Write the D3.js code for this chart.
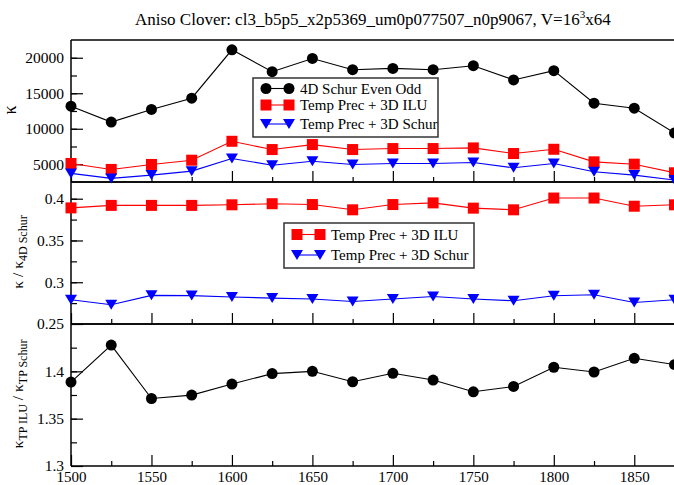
<!DOCTYPE html>
<html><head><meta charset="utf-8">
<script src="https://cdn.jsdelivr.net/npm/d3@7"></script>
<style>
html,body{margin:0;padding:0;background:#fff;overflow:hidden;}
svg text{font-family:"Liberation Serif","Times New Roman",serif !important;}
</style></head>
<body><svg id="chart" width="674" height="485"></svg>
<script>
// ---- data ----
const beta = [1500,1525,1550,1575,1600,1625,1650,1675,1700,1725,1750,1775,1800,1825,1850,1875];
const kappa4DSchur = [13180,10940,12720,14300,21120,18040,19900,18320,18500,18320,18880,16870,18180,13600,12900,9400];
const kappaTPILU   = [5110,4270,4970,5570,8235,7070,7770,7070,7210,7210,7300,6510,7110,5340,5010,3800];
const kappaTPSchur = [3710,3010,3470,4030,5810,4870,5430,4970,5110,5110,5250,4500,5110,3940,3470,2770];
const ratioILU   = [0.389,0.392,0.392,0.392,0.3927,0.394,0.393,0.3867,0.393,0.395,0.3887,0.3867,0.4008,0.4008,0.391,0.3927];
const ratioSchur = [0.279,0.273,0.2843,0.284,0.2823,0.281,0.2799,0.277,0.280,0.283,0.280,0.2778,0.2839,0.2851,0.2758,0.279];
const ratioTP    = [1.3887,1.4277,1.3713,1.3749,1.3866,1.3976,1.400,1.389,1.3979,1.3908,1.3784,1.384,1.4043,1.3993,1.4138,1.4071];
const xTicks = [1500,1550,1600,1650,1700,1750,1800,1850];
const topTicks = [5000,10000,15000,20000];
const midTicks = [0.25,0.3,0.35,0.4];
const botTicks = [1.3,1.35,1.4];
const seriesNames = ["4D Schur Even Odd","Temp Prec + 3D ILU","Temp Prec + 3D Schur"];
const titleText = "Aniso Clover: cl3_b5p5_x2p5369_um0p077507_n0p9067, V=16";

const svg = d3.select("#chart");
const L = 71, R = 674.5;
const x = d3.scaleLinear().domain([1500,1875]).range([L,R]);

const panels = [
  {top:40, bottom:182, domain:[2500,22500], ticks:topTicks, minorStep:2500, fmt:d3.format("d")},
  {top:182, bottom:324, domain:[0.25,0.42], ticks:midTicks, minorStep:0.025, fmt:d=>String(d)},
  {top:324, bottom:466, domain:[1.3,1.45], ticks:botTicks, minorStep:0.025, fmt:d=>String(d)}
];
panels.forEach(p=>{ p.y = d3.scaleLinear().domain(p.domain).range([p.bottom,p.top]); });

// title
const t = svg.append("text").attr("x",135).attr("y",25).attr("font-size",17).attr("fill","#000").text(titleText);
t.append("tspan").attr("dy",-7).attr("font-size",11).text("3");
t.append("tspan").attr("dy",7).text("x64");

function minorVals(domain, step){
  const out=[]; const n=Math.round((domain[1]-domain[0])/step);
  for(let i=0;i<=n;i++){ out.push(+(domain[0]+i*step).toFixed(6)); }
  return out;
}

panels.forEach((p,i)=>{
  svg.append("line").attr("x1",L).attr("x2",R+2).attr("y1",p.top).attr("y2",p.top).attr("stroke","#000").attr("stroke-width",1.5);
  svg.append("line").attr("x1",L).attr("x2",R+2).attr("y1",p.bottom).attr("y2",p.bottom).attr("stroke","#000").attr("stroke-width",1.5);
  svg.append("line").attr("x1",L).attr("x2",L).attr("y1",p.top).attr("y2",p.bottom).attr("stroke","#000").attr("stroke-width",1.5);
  const gm = svg.append("g").attr("transform",`translate(${L},0)`)
    .call(d3.axisLeft(p.y).tickValues(minorVals(p.domain,p.minorStep).filter(v=>v>p.domain[0]&&v<p.domain[1])).tickSize(-6).tickFormat(""));
  gm.select(".domain").remove();
  const g = svg.append("g").attr("transform",`translate(${L},0)`)
    .call(d3.axisLeft(p.y).tickValues(p.ticks).tickSize(-12).tickPadding(7).tickFormat(p.fmt));
  g.select(".domain").remove();
  g.attr("font-family",null);
  g.selectAll("text").attr("font-size",15.5).attr("fill","#000");
  g.selectAll("line").attr("stroke-width",1.2);
  gm.selectAll("line").attr("stroke-width",1.2);
  const xm = svg.append("g").attr("transform",`translate(0,${p.bottom})`)
    .call(d3.axisBottom(x).tickValues(beta.filter(v=>v%50!==0)).tickSize(-5).tickFormat(""));
  xm.select(".domain").remove();
  const xg = svg.append("g").attr("transform",`translate(0,${p.bottom})`)
    .call(d3.axisBottom(x).tickValues(xTicks).tickSize(-11).tickPadding(6).tickFormat(i===2?d3.format("d"):""));
  xg.select(".domain").remove();
  xg.attr("font-family",null);
  xg.selectAll("text").attr("font-size",15).attr("fill","#000").attr("y",16).attr("dy",null);
  xg.selectAll("line").attr("stroke-width",1.2); xm.selectAll("line").attr("stroke-width",1.2);
});

function drawMarker(g, type, cx, cy, color){
  if(type==="circle") g.append("circle").attr("cx",cx).attr("cy",cy).attr("r",5.5).attr("fill",color);
  else if(type==="square") g.append("rect").attr("x",cx-5.5).attr("y",cy-5.5).attr("width",11).attr("height",11).attr("fill",color);
  else g.append("path").attr("d",`M${cx-6},${cy-5} L${cx+6},${cy-5} L${cx},${cy+5} Z`).attr("fill",color);
}
function drawSeries(p, vals, color, type){
  const line = d3.line().x((d,i)=>x(beta[i])).y(d=>p.y(d));
  svg.append("path").attr("d",line(vals)).attr("fill","none").attr("stroke",color).attr("stroke-width",1.1);
  const g = svg.append("g");
  vals.forEach((v,i)=>drawMarker(g,type,x(beta[i]),p.y(v),color));
}
const BLACK="#000", RED="#ff0000", BLUE="#0000ff";
drawSeries(panels[0], kappa4DSchur, BLACK, "circle");
drawSeries(panels[0], kappaTPILU, RED, "square");
drawSeries(panels[0], kappaTPSchur, BLUE, "triangle");
drawSeries(panels[1], ratioILU, RED, "square");
drawSeries(panels[1], ratioSchur, BLUE, "triangle");
drawSeries(panels[2], ratioTP, BLACK, "circle");

function legend(x0,y0,w,h,items,rowY){
  const g = svg.append("g");
  g.append("rect").attr("x",x0).attr("y",y0).attr("width",w).attr("height",h).attr("fill","#fff").attr("stroke","#333").attr("stroke-width",1.5);
  items.forEach((it,i)=>{
    const yy = rowY[i];
    g.append("line").attr("x1",x0+13).attr("x2",x0+36).attr("y1",yy).attr("y2",yy).attr("stroke",it.color).attr("stroke-width",1.1);
    drawMarker(g,it.type,x0+13,yy,it.color);
    drawMarker(g,it.type,x0+36,yy,it.color);
    g.append("text").attr("x",x0+47).attr("y",yy+5).attr("font-size",15).attr("fill","#000").text(it.name);
  });
}
legend(253,78,185,59,[
  {name:seriesNames[0],color:BLACK,type:"circle"},
  {name:seriesNames[1],color:RED,type:"square"},
  {name:seriesNames[2],color:BLUE,type:"triangle"}],[88.5,105,124]);
legend(284,223,190,45,[
  {name:seriesNames[1],color:RED,type:"square"},
  {name:seriesNames[2],color:BLUE,type:"triangle"}],[234.5,255]);

svg.append("text").attr("transform","translate(16,110) rotate(-90)").attr("text-anchor","middle").attr("font-size",18).text("κ");
const m = svg.append("text").attr("transform","translate(23,252) rotate(-90)").attr("text-anchor","middle").attr("font-size",15.5);
m.append("tspan").text("κ / κ");
m.append("tspan").attr("dy",4).attr("font-size",12).text("4D Schur");
const b = svg.append("text").attr("transform","translate(23,394) rotate(-90)").attr("text-anchor","middle").attr("font-size",15.5);
b.append("tspan").text("κ");
b.append("tspan").attr("dy",4).attr("font-size",12).text("TP ILU");
b.append("tspan").attr("dy",-4).text(" / κ");
b.append("tspan").attr("dy",4).attr("font-size",12).text("TP Schur");
</script></body></html>
